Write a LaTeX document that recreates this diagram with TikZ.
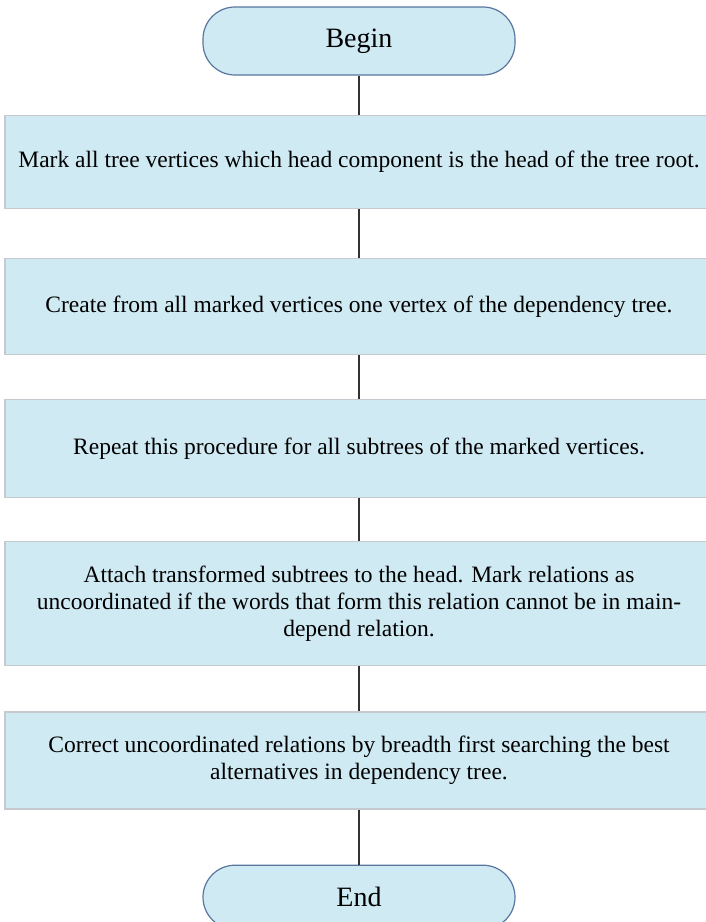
\documentclass[tikz,border=0pt]{standalone}
\usepackage{fontspec}
\setmainfont{Liberation Serif}
\usetikzlibrary{positioning}
\definecolor{flowfill}{RGB}{207,234,243}
\definecolor{flowedge}{RGB}{198,202,206}
\definecolor{termedge}{RGB}{88,118,158}
\definecolor{flowline}{RGB}{50,50,50}
\tikzset{
  fblk/.style={rectangle, draw=flowedge, fill=flowfill, line width=1.2pt, align=center,
               font=\fontsize{23.5}{26.8}\selectfont, minimum width=708pt, inner sep=0pt},
  fterm/.style={rectangle, rounded corners=32pt, draw=termedge, fill=flowfill, line width=1.2pt,
                font=\fontsize{28}{32}\selectfont, minimum width=312pt, minimum height=66pt},
  fline/.style={line width=2pt, flowline},
}
\begin{document}
\begin{tikzpicture}[x=1pt,y=1pt]
\useasboundingbox (0,0) rectangle (705,-922);
\node[fterm, minimum height=68pt] (b) at (359,-41) {Begin};
\node[fblk, minimum height=93pt, below=39pt of b] (s1) {Mark all tree vertices which head component is the head of the tree root.};
\node[fblk, minimum height=96pt, below=49pt of s1] (s2) {Create from all marked vertices one vertex of the dependency tree.};
\node[fblk, minimum height=98pt, below=44pt of s2] (s3) {Repeat this procedure for all subtrees of the marked vertices.};
\node[fblk, minimum height=124pt, below=43pt of s3] (s4) {Attach transformed subtrees to the head. Mark relations as\\uncoordinated if the words that form this relation cannot be in main-\\depend relation.};
\node[fblk, minimum height=97pt, below=45pt of s4] (s5) {Correct uncoordinated relations by breadth first searching the best\\alternatives in dependency tree.};
\node[fterm, minimum height=64pt, below=55pt of s5] (e) {End};
\draw[fline](b)--(s1);\draw[fline](s1)--(s2);\draw[fline](s2)--(s3);\draw[fline](s3)--(s4);\draw[fline](s4)--(s5);\draw[fline](s5)--(e);
\end{tikzpicture}
\end{document}
